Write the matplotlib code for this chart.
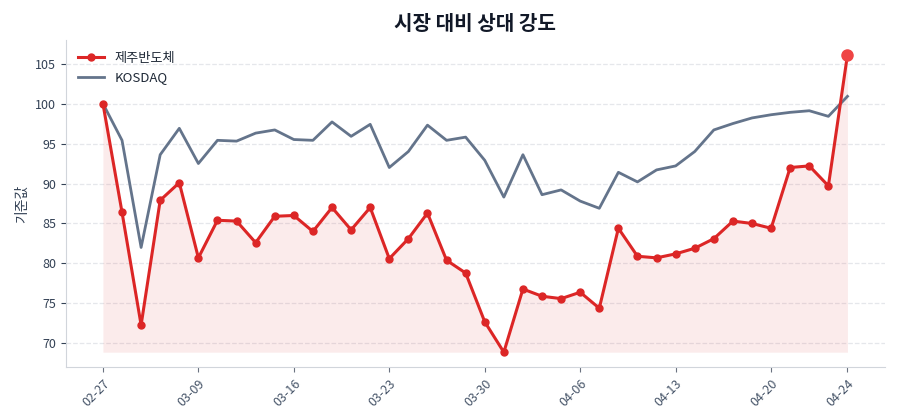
import matplotlib
matplotlib.use("Agg")
import matplotlib.pyplot as plt
import numpy as np

plt.rcParams['font.family'] = ['Noto Sans CJK KR', 'DejaVu Sans']

dates = ["02-27", "03-03", "03-04", "03-05", "03-06",
         "03-09", "03-10", "03-11", "03-12", "03-13",
         "03-16", "03-17", "03-18", "03-19", "03-20",
         "03-23", "03-24", "03-25", "03-26", "03-27",
         "03-30", "03-31", "04-01", "04-02", "04-03",
         "04-06", "04-07", "04-08", "04-09", "04-10",
         "04-13", "04-14", "04-15", "04-16", "04-17",
         "04-20", "04-21", "04-22", "04-23", "04-24"]

jeju = [100.0, 86.4, 72.3, 87.9, 90.1, 80.7, 85.4, 85.3, 82.6, 85.9,
        86.0, 84.0, 87.0, 84.2, 87.0, 80.6, 83.1, 86.3, 80.4, 78.8,
        72.7, 68.9, 76.8, 75.9, 75.6, 76.4, 74.4, 84.4, 80.9, 80.7,
        81.2, 81.9, 83.1, 85.3, 85.0, 84.4, 92.0, 92.2, 89.7, 106.1]

kosdaq = [100.0, 95.4, 82.0, 93.6, 96.9, 92.5, 95.4, 95.3, 96.3, 96.7,
          95.5, 95.4, 97.7, 95.9, 97.4, 92.0, 94.0, 97.3, 95.4, 95.8,
          92.9, 88.3, 93.6, 88.6, 89.2, 87.8, 86.9, 91.4, 90.2, 91.7,
          92.2, 94.0, 96.7, 97.5, 98.2, 98.6, 98.9, 99.1, 98.4, 100.9]

tick_labels = ["02-27", "03-09", "03-16", "03-23", "03-30", "04-06", "04-13", "04-20", "04-24"]

red = "#dc2626"
gray = "#64748b"
txt = "#334155"

x = np.arange(len(dates))
jeju_a = np.array(jeju)

fig = plt.figure(figsize=(9, 4.2), dpi=100)
ax = fig.add_axes([0.073, 0.126, 0.910, 0.779])

ax.fill_between(x, jeju_a, jeju_a.min(), color=red, alpha=0.09, linewidth=0)
ax.plot(x, jeju, color=red, lw=2.2, marker='o', ms=5, label="제주반도체", zorder=3)
ax.plot(x, kosdaq, color=gray, lw=2.0, label="KOSDAQ", zorder=2)
ax.plot(x[-1], jeju[-1], 'o', color="#ef4444", ms=8, zorder=4)

ax.set_title("시장 대비 상대 강도", fontsize=14.5, fontweight='bold', color="#111827", pad=7)
ax.set_ylabel("기준값", fontsize=10, color=txt)

tick_idx = [dates.index(d) for d in tick_labels]
ax.set_xticks(tick_idx)
ax.set_xticklabels(tick_labels, rotation=45, ha='right', rotation_mode='anchor', fontsize=9, color="#475569")
ax.set_yticks([70, 75, 80, 85, 90, 95, 100, 105])
ax.tick_params(axis='y', labelsize=9, colors=txt)
ax.tick_params(axis='x', colors="#6b7280")
for lab in ax.get_yticklabels():
    lab.set_color(txt)
for lab in ax.get_xticklabels():
    lab.set_color("#475569")

ax.grid(axis='y', linestyle='--', color="#e5e7eb", linewidth=0.9)
ax.set_axisbelow(True)
for s in ['top', 'right']:
    ax.spines[s].set_visible(False)
for s in ['left', 'bottom']:
    ax.spines[s].set_color("#d1d5db")

leg = ax.legend(loc='upper left', frameon=False, fontsize=9.5)
for t in leg.get_texts():
    t.set_color("#1f2937")

fig.savefig("out.png", dpi=100)
